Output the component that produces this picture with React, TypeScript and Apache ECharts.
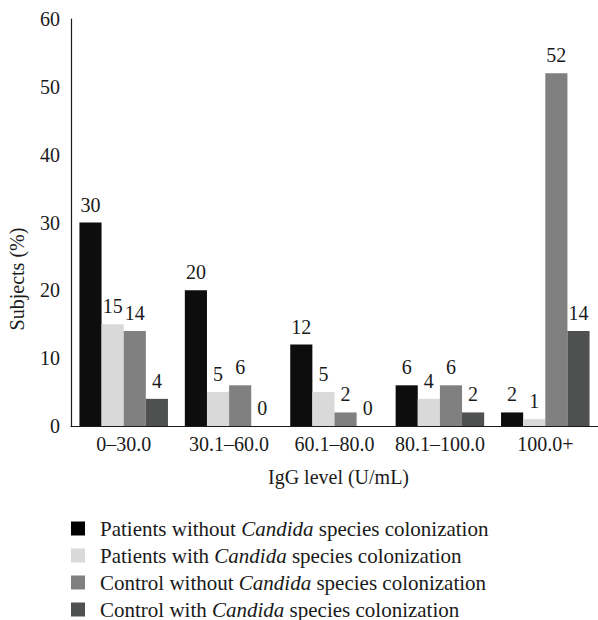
import React, { useEffect, useRef } from "react";
import * as echarts from "echarts";

const categories = ["0–30.0", "30.1–60.0", "60.1–80.0", "80.1–100.0", "100.0+"];
const patientsWithout = [30, 20, 12, 6, 2];
const patientsWith = [15, 5, 5, 4, 1];
const controlWithout = [14, 6, 2, 6, 52];
const controlWith = [4, 0, 0, 2, 14];
const yTicks = { min: 0, max: 60, interval: 10 };

const seriesNames = [
  "Patients without Candida species colonization",
  "Patients with Candida species colonization",
  "Control without Candida species colonization",
  "Control with Candida species colonization",
];
const seriesData = [patientsWithout, patientsWith, controlWithout, controlWith];
const seriesColors = ["#0d0d0d", "#d9d9d9", "#808080", "#4f5151"];
const legendColors = ["#000000", "#d9d9d9", "#808080", "#4f5151"];

const FONT = "Liberation Serif";

export default function App() {
  const ref = useRef<HTMLDivElement>(null);
  useEffect(() => {
    if (!ref.current) return;
    const chart = echarts.init(ref.current, undefined, { renderer: "svg" });
    chart.setOption({
      animation: false,
      backgroundColor: "#ffffff",
      textStyle: { fontFamily: FONT },
      grid: { left: 71, top: 19, width: 530, height: 407, containLabel: false },
      xAxis: {
        type: "category",
        data: categories,
        axisTick: { show: false },
        axisLine: { lineStyle: { color: "#1a1a1a", width: 1.2 } },
        axisLabel: { color: "#1a1a1a", fontSize: 20, fontFamily: FONT, margin: 8, interval: 0 },
        name: "IgG level (U/mL)",
        nameLocation: "middle",
        nameGap: 41,
        nameTextStyle: { color: "#1a1a1a", fontSize: 20, fontFamily: FONT, padding: [0, 0, 0, 8] },
      },
      yAxis: {
        type: "value",
        min: yTicks.min,
        max: yTicks.max,
        interval: yTicks.interval,
        axisLine: { show: true, lineStyle: { color: "#1a1a1a", width: 1.2 } },
        axisTick: { show: false },
        splitLine: { show: false },
        axisLabel: { color: "#1a1a1a", fontSize: 20, fontFamily: FONT, margin: 11 },
      },
      legend: {
        orient: "vertical",
        left: 71,
        top: 518,
        height: 140,
        padding: 0,
        itemWidth: 14,
        itemHeight: 14,
        itemGap: 6,
        icon: "rect",
        data: seriesNames.map((n, i) => ({ name: n, itemStyle: { color: legendColors[i] } })),
        formatter: (name: string) => {
          const parts = name.split("Candida");
          return `{n|${parts[0]}}{i|Candida}{n|${parts[1]}}`;
        },
        textStyle: {
          color: "#1a1a1a",
          fontSize: 21,
          fontFamily: FONT,
          padding: [0, 0, 0, 10],
          rich: {
            n: { fontSize: 21, fontFamily: FONT, color: "#1a1a1a" },
            i: { fontSize: 21, fontFamily: FONT, fontStyle: "italic", color: "#1a1a1a" },
          },
        },
      },
      graphic: [
        {
          type: "text",
          x: 17,
          y: 279,
          rotation: Math.PI / 2,
          style: {
            text: "Subjects (%)",
            fontSize: 20,
            fontFamily: FONT,
            fill: "#1a1a1a",
            align: "center",
            verticalAlign: "middle",
          },
        },
      ],
      series: seriesNames.map((n, i) => ({
        name: n,
        type: "bar",
        data: seriesData[i],
        barGap: "0%",
        barCategoryGap: "16%",
        itemStyle: { color: seriesColors[i] },
        label: {
          show: true,
          position: "top",
          distance: 8,
          color: "#1a1a1a",
          fontSize: 20,
          fontFamily: FONT,
        },
      })),
    });
    return () => chart.dispose();
  }, []);
  return <div ref={ref} style={{ width: 598, height: 620, position: "absolute", left: 0, top: 0 }} />;
}
